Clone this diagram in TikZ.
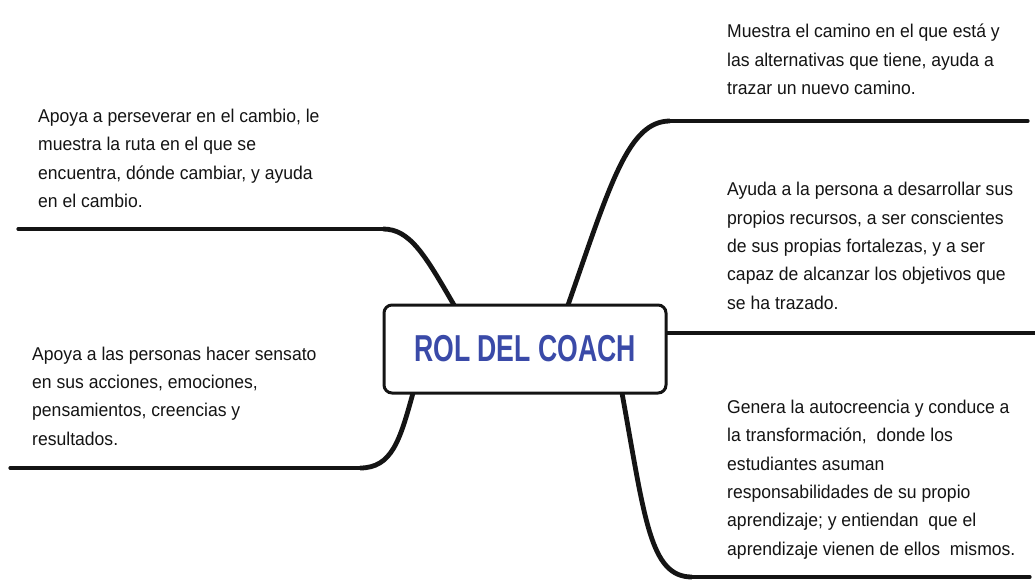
\documentclass[tikz,border=0pt]{standalone}
\usepackage{fontspec}
\setmainfont{Liberation Sans}[FakeStretch=0.95]
\newfontfamily\titlefont{Liberation Sans}[FakeStretch=0.71]
\usetikzlibrary{calc}
\definecolor{titleblue}{HTML}{3A4AA8}
\definecolor{ink}{HTML}{141414}
\begin{document}
\begin{tikzpicture}[x=1pt,y=-1pt,
  txt/.style={anchor=base west,align=left,inner sep=0pt,text=ink,
    font=\fontsize{18.5}{28.3}\selectfont},
  center/.style={draw=ink,line width=3pt,rounded corners=8pt,fill=white,
    minimum width=282pt,minimum height=88pt,inner sep=0pt,
    font=\titlefont\bfseries\fontsize{37.5}{40}\selectfont,text=titleblue},
  branch/.style={draw=ink,line width=3.2pt,line cap=round},
  stem/.style={draw=ink,line width=4.8pt,line cap=butt}]
\useasboundingbox (0,0) rectangle (1035,588);
\fill[white] (0,0) rectangle (1035,588);

% free ends of the branches
\coordinate (tlend) at (18,229);
\coordinate (blend) at (10,468);
\coordinate (trend) at (1028,121);
\coordinate (mrend) at (1035,333);
\coordinate (brend) at (1030,577);

% attachment points on the central box
\coordinate (tlbox) at (454,305);
\coordinate (blbox) at (413,393);
\coordinate (trbox) at (568,305);
\coordinate (brbox) at (622,393);
\coordinate (mrbox) at (666,333);

\draw[branch] (tlend) -- (385,229);
\draw[stem] (tlbox) .. controls (425,255) and (410,229) .. (383,229);
\draw[branch] (blend) -- (362,468);
\draw[stem] (blbox) .. controls (400,440) and (392,468) .. (360,468);
\draw[branch] (trend) -- (668,121);
\draw[stem] (trbox) .. controls (610,185) and (628,121) .. (670,121);
\draw[branch] (mrbox) -- (mrend);
\draw[branch] (brend) -- (690,577);
\draw[stem] (brbox) .. controls (645,520) and (650,577) .. (692,577);

\node[center] (c) at (525,349) {ROL DEL COACH};

% text blocks (anchor = baseline of the last line)
\node[txt] (tl) at (38,207.6) {Apoya a perseverar en el cambio, le\\muestra la ruta en el que se\\encuentra, dónde cambiar, y ayuda\\en el cambio.};
\node[txt] (bl) at (32,445) {Apoya a las personas hacer sensato\\en sus acciones, emociones,\\pensamientos, creencias y\\resultados.};
\node[txt] (tr1) at (727,94.6) {Muestra el camino en el que está y\\las alternativas que tiene, ayuda a\\trazar un nuevo camino.};
\node[txt] (tr2) at (727,309) {Ayuda a la persona a desarrollar sus\\propios recursos, a ser conscientes\\de sus propias fortalezas, y a ser\\capaz de alcanzar los objetivos que\\se ha trazado.};
\node[txt] (tr3) at (727,555) {Genera la autocreencia y conduce a\\la transformación,~ donde los\\estudiantes asuman\\responsabilidades de su propio\\aprendizaje; y entiendan~ que el\\aprendizaje vienen de ellos~ mismos.};
\end{tikzpicture}
\end{document}
